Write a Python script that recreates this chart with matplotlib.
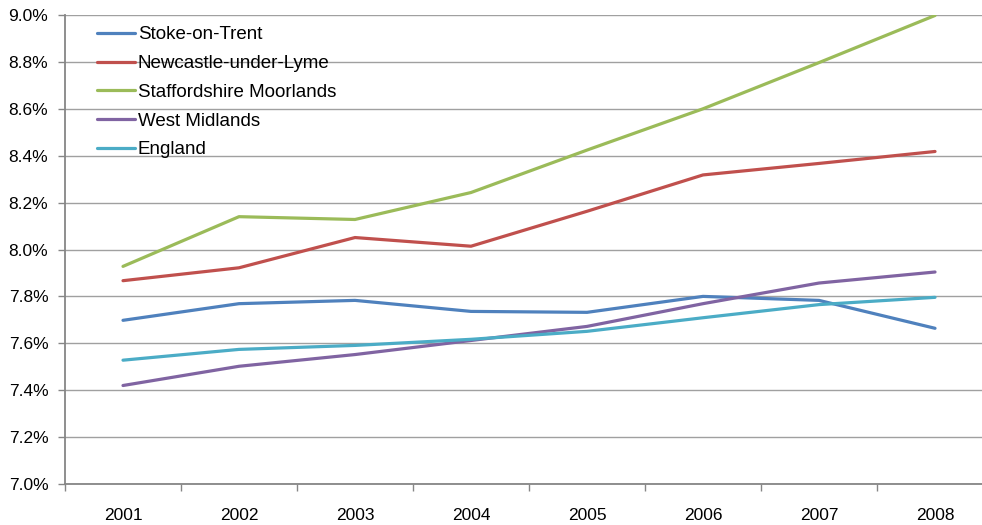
import numpy as np
import matplotlib.pyplot as plt
from matplotlib.ticker import FixedLocator, PercentFormatter

years = ['2001', '2002', '2003', '2004', '2005', '2006', '2007', '2008']

stoke = [7.698, 7.769, 7.783, 7.736, 7.732, 7.800, 7.783, 7.664]
newcastle = [7.867, 7.922, 8.051, 8.014, 8.163, 8.318, 8.367, 8.418]
moorlands = [7.928, 8.140, 8.128, 8.243, 8.424, 8.600, 8.797, 8.998]
west_mid = [7.420, 7.502, 7.552, 7.612, 7.672, 7.769, 7.857, 7.904]
england = [7.528, 7.574, 7.591, 7.617, 7.651, 7.709, 7.765, 7.796]

series = [
    ('Stoke-on-Trent', stoke, '#4F81BD'),
    ('Newcastle-under-Lyme', newcastle, '#C0504D'),
    ('Staffordshire Moorlands', moorlands, '#9BBB59'),
    ('West Midlands', west_mid, '#8064A2'),
    ('England', england, '#4BACC6'),
]

plt.rcParams['font.family'] = ['Liberation Sans', 'DejaVu Sans']

fig = plt.figure(figsize=(9.82, 5.25), dpi=100)
ax = fig.add_axes([65 / 982, 1 - 484 / 525, 1 - 65 / 982, (484 - 15) / 525])

x = np.arange(len(years))
for name, vals, col in series:
    ax.plot(x, vals, color=col, lw=2.3, label=name, solid_capstyle='round')

ax.set_ylim(7.0, 9.0)
ax.set_xlim(-0.5, 7.405)
ax.set_yticks(np.arange(7.0, 9.01, 0.2))
ax.yaxis.set_major_formatter(PercentFormatter(decimals=1))
ax.grid(axis='y', color='#a0a0a0', lw=1)
ax.set_axisbelow(True)

ax.set_xticks(x)
ax.set_xticklabels(years)
ax.xaxis.set_minor_locator(FixedLocator(np.arange(-0.5, 7.5, 1)))
ax.tick_params(axis='x', which='major', length=0, pad=17, labelsize=12.5)
ax.tick_params(axis='x', which='minor', length=5, color='#868686', width=1)
ax.tick_params(axis='y', length=5, color='#868686', width=1, labelsize=12.5, pad=7)

for s in ['top', 'right']:
    ax.spines[s].set_visible(False)
for s in ['left', 'bottom']:
    ax.spines[s].set_color('#868686')
    ax.spines[s].set_linewidth(1.3)

ax.legend(loc='upper left', bbox_to_anchor=(0.017, 1.012), frameon=False,
          fontsize=13.5, handlelength=2.0, labelspacing=0.62, handletextpad=0.15)

fig.savefig('out.png', dpi=100)
